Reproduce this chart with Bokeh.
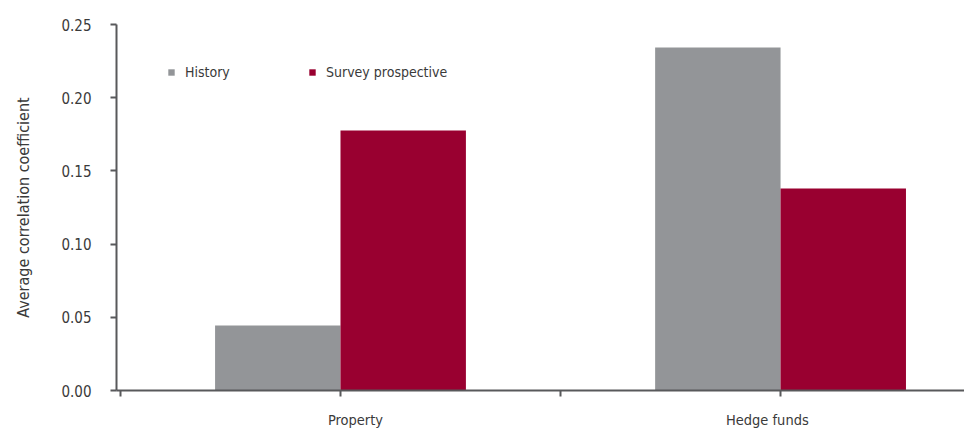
from bokeh.plotting import figure
from bokeh.models import (ColumnDataSource, Range1d, FixedTicker, NumeralTickFormatter,
                          Legend, LegendItem, LinearAxis)
from bokeh.transform import dodge
from bokeh.embed import file_html
from bokeh.resources import INLINE

categories = ["Property", "Hedge funds"]
history = [0.0444, 0.2343]
survey = [0.1776, 0.1380]
series_names = ["History", "Survey prospective"]
y_ticks = [0.0, 0.05, 0.10, 0.15, 0.20, 0.25]

FONT = "DejaVu Sans Condensed"
GRAY = "#939598"
RED = "#990030"
AXIS = "#58595b"
TEXT = "#3a3a3a"

xpos = [i + 0.5 for i in range(len(categories))]
src = ColumnDataSource(dict(x=xpos, history=history, survey=survey))

p = figure(width=964, height=432, output_backend="svg", toolbar_location=None,
           x_range=Range1d(-0.009, 1.918), y_range=Range1d(0, 0.25),
           min_border_left=116, min_border_right=0, min_border_top=24, min_border_bottom=42,
           x_axis_type=None, y_axis_type=None)
p.outline_line_color = None
p.grid.visible = False
p.background_fill_color = "white"
p.border_fill_color = "white"

bw = 0.285
r1 = p.vbar(x=dodge("x", -bw / 2, range=p.x_range), top="history", width=bw, source=src,
            fill_color=GRAY, line_color=None)
r2 = p.vbar(x=dodge("x", bw / 2, range=p.x_range), top="survey", width=bw, source=src,
            fill_color=RED, line_color=None)

# y axis
ya = LinearAxis(ticker=FixedTicker(ticks=y_ticks), formatter=NumeralTickFormatter(format="0.00"),
                axis_label="Average correlation coefficient")
ya.axis_line_color = AXIS
ya.axis_line_width = 2
ya.major_tick_line_color = AXIS
ya.major_tick_line_width = 2
ya.major_tick_out = 6
ya.major_tick_in = 0
ya.minor_tick_line_color = None
ya.major_label_text_font = FONT
ya.major_label_text_font_size = "15px"
ya.major_label_text_color = TEXT
ya.major_label_standoff = 19
ya.axis_label_text_font = FONT
ya.axis_label_text_font_size = "16px"
ya.axis_label_text_font_style = "normal"
ya.axis_label_text_color = TEXT
ya.axis_label_standoff = 25
p.add_layout(ya, "left")

# x axis: tick marks at bar-group centres and boundaries; labels sit slightly off-centre as in the source
label_pos = [xpos[0] + 0.034, xpos[1] - 0.030]
xa = LinearAxis(ticker=FixedTicker(ticks=label_pos, minor_ticks=[0.0, 0.5, 1.0, 1.5, 2.0]))
xa.major_label_overrides = {x: c for x, c in zip(label_pos, categories)}
xa.axis_line_color = AXIS
xa.axis_line_width = 2
xa.major_tick_line_color = None
xa.major_tick_out = 6
xa.major_tick_in = 0
xa.minor_tick_line_color = AXIS
xa.minor_tick_line_width = 2
xa.minor_tick_out = 6
xa.minor_tick_in = 0
xa.major_label_text_font = FONT
xa.major_label_text_font_size = "14.5px"
xa.major_label_text_color = TEXT
xa.major_label_standoff = 15
p.add_layout(xa, "below")

for r, name, loc in [(r1, series_names[0], (51, 310)), (r2, series_names[1], (192, 310))]:
    lg = Legend(items=[LegendItem(label=name, renderers=[r])], location=loc,
                orientation="horizontal", padding=0, margin=0, spacing=0,
                glyph_width=8, glyph_height=8, label_standoff=10,
                label_text_font=FONT, label_text_font_size="14px", label_text_color=TEXT,
                border_line_color=None, background_fill_alpha=0)
    p.add_layout(lg, "center")

open("out.html", "w").write(file_html(p, INLINE))
